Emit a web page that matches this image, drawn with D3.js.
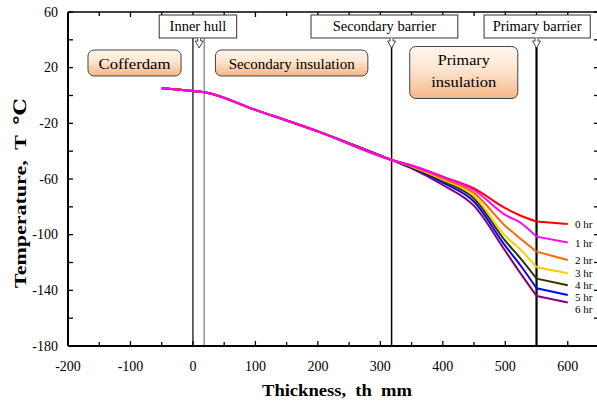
<!DOCTYPE html>
<html><head><meta charset="utf-8">
<script src="https://cdn.jsdelivr.net/npm/d3@7"></script>
<style>body{margin:0;background:#fff}svg{display:block}</style>
</head><body><svg id="c" width="597" height="403" font-family="'Liberation Serif', 'Times New Roman', Times, 'DejaVu Serif', serif"></svg>
<script>
// ---- data ----
const thickness = [-50, 0, 18, 100, 200, 318, 350, 400, 450, 500, 525, 550, 600];
const commonPart = [5.2, 3.2, 2.3, -10.3, -25.8, -46.3];
const seriesNames = ["0 hr", "1 hr", "2 hr", "3 hr", "4 hr", "5 hr", "6 hr"];
const seriesColors = ["#ff0000", "#ff00ff", "#ff6600", "#ffcc00", "#333300", "#0000ff", "#800080"];
const tail0 = [-50.3, -58.3, -66.8, -81.0, -86.4, -90.6, -92.3];
const tail1 = [-50.3, -58.5, -67.9, -85.8, -91.6, -101.4, -105.7];
const tail2 = [-50.6, -59.6, -70.0, -93.7, -103.1, -112.2, -118.2];
const tail3 = [-51.0, -60.5, -72.0, -100.9, -111.0, -123.4, -127.7];
const tail4 = [-51.4, -61.4, -74.0, -104.5, -117.4, -131.6, -136.3];
const tail5 = [-51.7, -62.6, -76.3, -108.1, -122.5, -138.5, -143.3];
const tail6 = [-52.4, -64.3, -79.3, -111.7, -128.2, -144.0, -148.8];
const tails = [tail0, tail1, tail2, tail3, tail4, tail5, tail6];
const xTickLabels = [-200, -100, 0, 100, 200, 300, 400, 500, 600];
const yTickLabels = [60, 20, -20, -60, -100, -140, -180];
const boundaries = [
  {x: 0, color: "#000", w: 1.2},
  {x: 18, color: "#777", w: 1.2},
  {x: 318, color: "#000", w: 1.5},
  {x: 550, color: "#000", w: 2.2}
];
const callouts = [
  {label: "Inner hull", x: 10, x0: -54, x1: 70},
  {label: "Secondary barrier", x: 318, x0: 189, x1: 424},
  {label: "Primary barrier", x: 550, x0: 466, x1: 636}
];
const regions = [
  {lines: ["Cofferdam"], x0: -168, x1: -19, tl: [72]},
  {lines: ["Secondary insulation"], x0: 36, x1: 280, tl: [126]},
  {lines: ["Primary", "insulation"], x0: 347, x1: 520, tl: [52, 65]}
];

// ---- chart ----
const svg = d3.select("#c");
const L = 68, R = 599, T = 12, B = 346;
const x = d3.scaleLinear().domain([-200, 650]).range([L, R]);
const y = d3.scaleLinear().domain([-180, 60]).range([B, T]);

const defs = svg.append("defs");
const g = defs.append("linearGradient").attr("id", "og").attr("x1", 0).attr("y1", 0).attr("x2", 0).attr("y2", 1);
g.append("stop").attr("offset", "0%").attr("stop-color", "#fff6ee");
g.append("stop").attr("offset", "45%").attr("stop-color", "#fde5cf");
g.append("stop").attr("offset", "100%").attr("stop-color", "#f6b584");

// boundary lines
boundaries.forEach((b, i) => {
  const top = i < 2 ? 38 : 46;
  svg.append("line").attr("x1", x(b.x)).attr("x2", x(b.x)).attr("y1", top).attr("y2", B)
    .attr("stroke", b.color).attr("stroke-width", b.w);
});

// series: smooth up to the primary barrier, straight beyond it
const smooth = d3.line().x(d => x(d[0])).y(d => y(d[1])).curve(d3.curveMonotoneX);
const straight = d3.line().x(d => x(d[0])).y(d => y(d[1]));
const order = [6, 5, 4, 3, 2, 0, 1];
const split = thickness.indexOf(550);
order.forEach(i => {
  const vals = commonPart.concat(tails[i]);
  const pts = thickness.map((t, k) => [t, vals[k]]);
  [smooth(pts.slice(0, split + 1)), straight(pts.slice(split))].forEach(d => {
    svg.append("path").attr("d", d).attr("fill", "none")
      .attr("stroke", seriesColors[i]).attr("stroke-width", 2).attr("stroke-linejoin", "round");
  });
});

// series labels
let prev = -1e9;
seriesNames.forEach((n, i) => {
  const vals = tails[i];
  let yy = y(vals[vals.length - 1]);
  if (yy < prev + 12) yy = prev + 12;
  prev = yy;
  svg.append("text").attr("x", 575).attr("y", yy + 4).attr("font-size", 11).text(n);
});

// axes frame
const ax = svg.append("g");
ax.append("line").attr("x1", L).attr("x2", R).attr("y1", B).attr("y2", B).attr("stroke", "#000").attr("stroke-width", 2);
ax.append("line").attr("x1", L).attr("x2", L).attr("y1", T).attr("y2", B).attr("stroke", "#000").attr("stroke-width", 2);
ax.append("line").attr("x1", L).attr("x2", R).attr("y1", T).attr("y2", T).attr("stroke", "#000").attr("stroke-width", 1.5);
ax.append("line").attr("x1", R).attr("x2", R).attr("y1", T).attr("y2", B).attr("stroke", "#000").attr("stroke-width", 1.5);

const xt = d3.range(-200, 651, 50);
xt.forEach(v => {
  const len = v % 100 === 0 ? 5 : 4;
  ax.append("line").attr("x1", x(v)).attr("x2", x(v)).attr("y1", B).attr("y2", B - len).attr("stroke", "#000").attr("stroke-width", 1.3);
  ax.append("line").attr("x1", x(v)).attr("x2", x(v)).attr("y1", T).attr("y2", T + len).attr("stroke", "#000").attr("stroke-width", 1.3);
});
const yt = d3.range(-180, 61, 20);
yt.forEach(v => {
  ax.append("line").attr("x1", L).attr("x2", L + 5).attr("y1", y(v)).attr("y2", y(v)).attr("stroke", "#000").attr("stroke-width", 1.3);
  ax.append("line").attr("x1", R).attr("x2", R - 5).attr("y1", y(v)).attr("y2", y(v)).attr("stroke", "#000").attr("stroke-width", 1.3);
});
xTickLabels.forEach(v => {
  ax.append("text").attr("x", x(v)).attr("y", 371).attr("text-anchor", "middle").attr("font-size", 14).text(v);
});
yTickLabels.forEach(v => {
  ax.append("text").attr("x", 58).attr("y", y(v) + 4.5).attr("text-anchor", "end").attr("font-size", 14).text(v);
});

svg.append("text").attr("x", 337).attr("y", 396).attr("text-anchor", "middle").style("white-space", "pre")
  .attr("font-size", 17).attr("font-weight", "bold")
  .attr("textLength", 150).attr("lengthAdjust", "spacingAndGlyphs").text("Thickness,  th  mm");
svg.append("text").attr("transform", "translate(26,193) rotate(-90)").attr("text-anchor", "middle").style("white-space", "pre")
  .attr("font-size", 17).attr("font-weight", "bold")
  .attr("textLength", 190).attr("lengthAdjust", "spacingAndGlyphs").text("Temperature,  T  ℃");

// region boxes
regions.forEach(r => {
  const h = r.lines.length === 1 ? 26 : 52;
  const top = r.lines.length === 1 ? 50 : 46.5;
  svg.append("rect").attr("x", x(r.x0)).attr("y", top).attr("width", x(r.x1) - x(r.x0)).attr("height", h)
    .attr("rx", 6).attr("fill", "url(#og)").attr("stroke", "#444").attr("stroke-width", 1);
  r.lines.forEach((t, k) => {
    svg.append("text").attr("x", (x(r.x0) + x(r.x1)) / 2).attr("y", top + 18.5 + k * 22)
      .attr("text-anchor", "middle").attr("font-size", 15.5)
      .attr("textLength", r.tl[k]).attr("lengthAdjust", "spacingAndGlyphs").text(t);
  });
});

// callouts
callouts.forEach(c => {
  const cx = x(c.x);
  const bx0 = x(c.x0), bx1 = x(c.x1);
  svg.append("rect").attr("x", bx0).attr("y", 15).attr("width", bx1 - bx0).attr("height", 23)
    .attr("fill", "#fff").attr("stroke", "#333").attr("stroke-width", 1);
  svg.append("text").attr("x", (bx0 + bx1) / 2).attr("y", 31).attr("text-anchor", "middle").attr("font-size", 14.5)
    .text(c.label);
  svg.append("path")
    .attr("d", `M${cx - 1.5},38 L${cx - 1.5},41 L${cx - 4},41 L${cx},48 L${cx + 4},41 L${cx + 1.5},41 L${cx + 1.5},38`)
    .attr("fill", "#fff").attr("stroke", "#333").attr("stroke-width", 0.9);
});
</script></body></html>
